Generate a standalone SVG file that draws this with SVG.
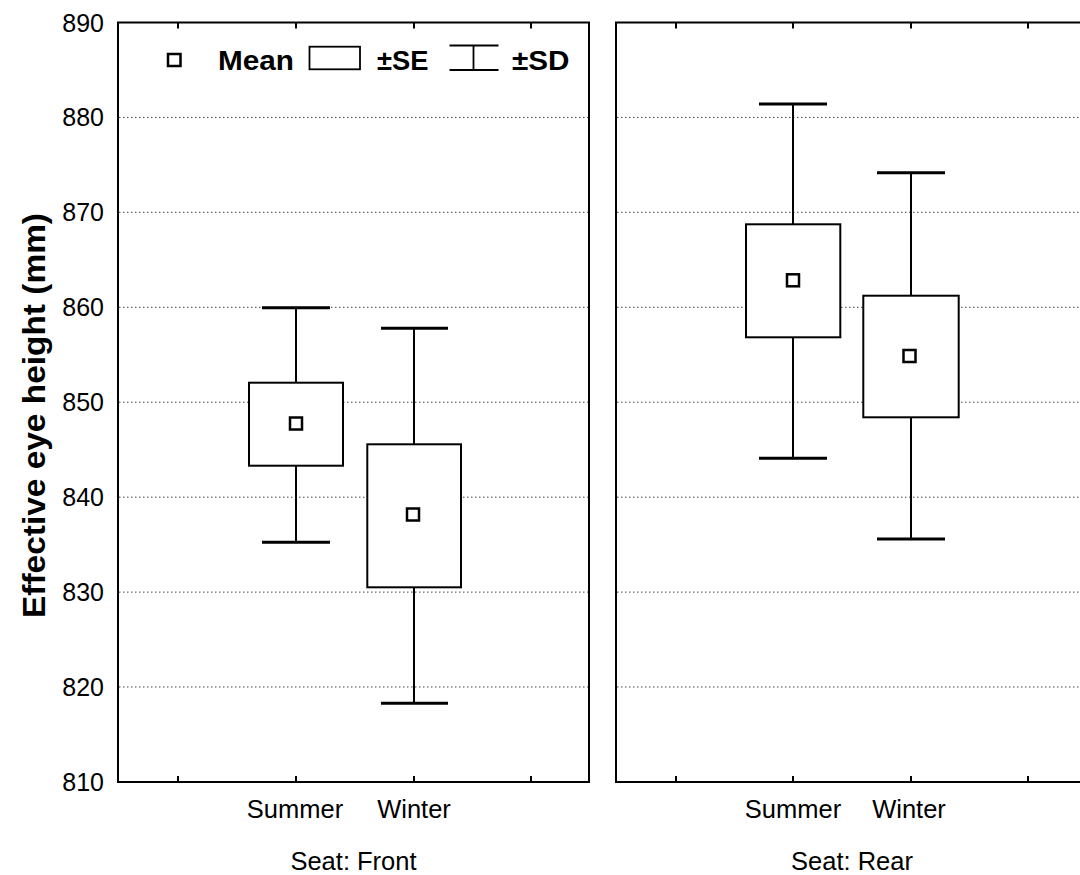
<svg xmlns="http://www.w3.org/2000/svg" width="1080" height="875" viewBox="0 0 1080 875">
<style>
text{font-family:"Liberation Sans",Arial,sans-serif;fill:#000}
.tick{font-size:25px;text-anchor:end}
.cat{font-size:25.5px;text-anchor:middle}
.leg{font-size:27px;font-weight:bold}
.grid{stroke:#444;stroke-width:1;stroke-dasharray:1.5 2.5;fill:none}
.frame{fill:none;stroke:#000;stroke-width:2}
.tk{stroke:#000;stroke-width:2}
.box{fill:#fff;stroke:#000;stroke-width:2}
.wh{stroke:#000;stroke-width:2;fill:none}
.cap{stroke:#000;stroke-width:3;fill:none}
.mean{fill:#fff;stroke:#000;stroke-width:2.5}
</style>
<rect width="1080" height="875" fill="#fff"/>

<g id="gridlines">
<path class="grid" d="M119 117.4H588M119 212.3H588M119 307.3H588M119 402.2H588M119 497.2H588M119 592.1H588M119 687H588"/>
<path class="grid" d="M617 117.4H1080M617 212.3H1080M617 307.3H1080M617 402.2H1080M617 497.2H1080M617 592.1H1080M617 687H1080"/>
</g>

<g id="axes">
<rect class="frame" x="118" y="22.5" width="471" height="759.5"/>
<rect class="frame" x="616" y="22.5" width="480" height="759.5"/>
<path class="tk" d="M178 22.5v6M296 22.5v6M414 22.5v6M531 22.5v6M178 782v-6M296 782v-6M414 782v-6M531 782v-6"/>
<path class="tk" d="M676 22.5v6M793 22.5v6M911 22.5v6M1028 22.5v6M676 782v-6M793 782v-6M911 782v-6M1028 782v-6"/>
<g id="ytick-labels">
<text class="tick" x="104" y="31.5">890</text>
<text class="tick" x="104" y="126.4">880</text>
<text class="tick" x="104" y="221.3">870</text>
<text class="tick" x="104" y="316.3">860</text>
<text class="tick" x="104" y="411.2">850</text>
<text class="tick" x="104" y="506.2">840</text>
<text class="tick" x="104" y="601.1">830</text>
<text class="tick" x="104" y="696">820</text>
<text class="tick" x="104" y="791">810</text>
</g>
<text id="ylabel" transform="translate(44.5,415.5) rotate(-90)" text-anchor="middle" font-size="31" font-weight="bold" textLength="405" lengthAdjust="spacingAndGlyphs">Effective eye height (mm)</text>
<text class="cat" x="295" y="818">Summer</text>
<text class="cat" x="414" y="818">Winter</text>
<text class="cat" x="353.5" y="870">Seat: Front</text>
<text class="cat" x="793" y="818">Summer</text>
<text class="cat" x="909" y="818">Winter</text>
<text class="cat" x="852" y="870">Seat: Rear</text>
</g>

<g id="connectors"></g>

<g id="front-summer">
<path class="wh" d="M296 307.7V542.3"/>
<path class="cap" d="M262 307.7H330M262 542.3H330"/>
<rect class="box" x="249" y="382.7" width="94" height="83"/>
<rect class="mean" x="290" y="417.5" width="12" height="12"/>
</g>

<g id="front-winter">
<path class="wh" d="M414 328.3V703.3"/>
<path class="cap" d="M381 328.3H448M381 703.3H448"/>
<rect class="box" x="367.3" y="444.3" width="93.7" height="143"/>
<rect class="mean" x="407" y="508.5" width="12" height="12"/>
</g>

<g id="rear-summer">
<path class="wh" d="M793 104V458.3"/>
<path class="cap" d="M759 104H827M759 458.3H827"/>
<rect class="box" x="746" y="224.3" width="94.3" height="113"/>
<rect class="mean" x="787" y="274.3" width="12" height="12"/>
</g>

<g id="rear-winter">
<path class="wh" d="M911 172.7V539"/>
<path class="cap" d="M877 172.7H945M877 539H945"/>
<rect class="box" x="863.3" y="295.7" width="95.4" height="121.6"/>
<rect class="mean" x="903.5" y="350" width="12" height="12"/>
</g>

<g id="legend">
<rect class="mean" x="168" y="54" width="12.5" height="12"/>
<text class="leg" x="218" y="70" textLength="76" lengthAdjust="spacingAndGlyphs">Mean</text>
<rect x="309.5" y="46.7" width="50.5" height="22.6" fill="#fff" stroke="#000" stroke-width="1.8"/>
<text class="leg" x="377" y="70" textLength="51.5" lengthAdjust="spacingAndGlyphs">±SE</text>
<path d="M449.5 45.5H498.5M449.5 70H498.5M473.5 45.5V70" stroke="#000" stroke-width="1.8" fill="none"/>
<text class="leg" x="512" y="70" textLength="57.5" lengthAdjust="spacingAndGlyphs">±SD</text>
</g>
</svg>
